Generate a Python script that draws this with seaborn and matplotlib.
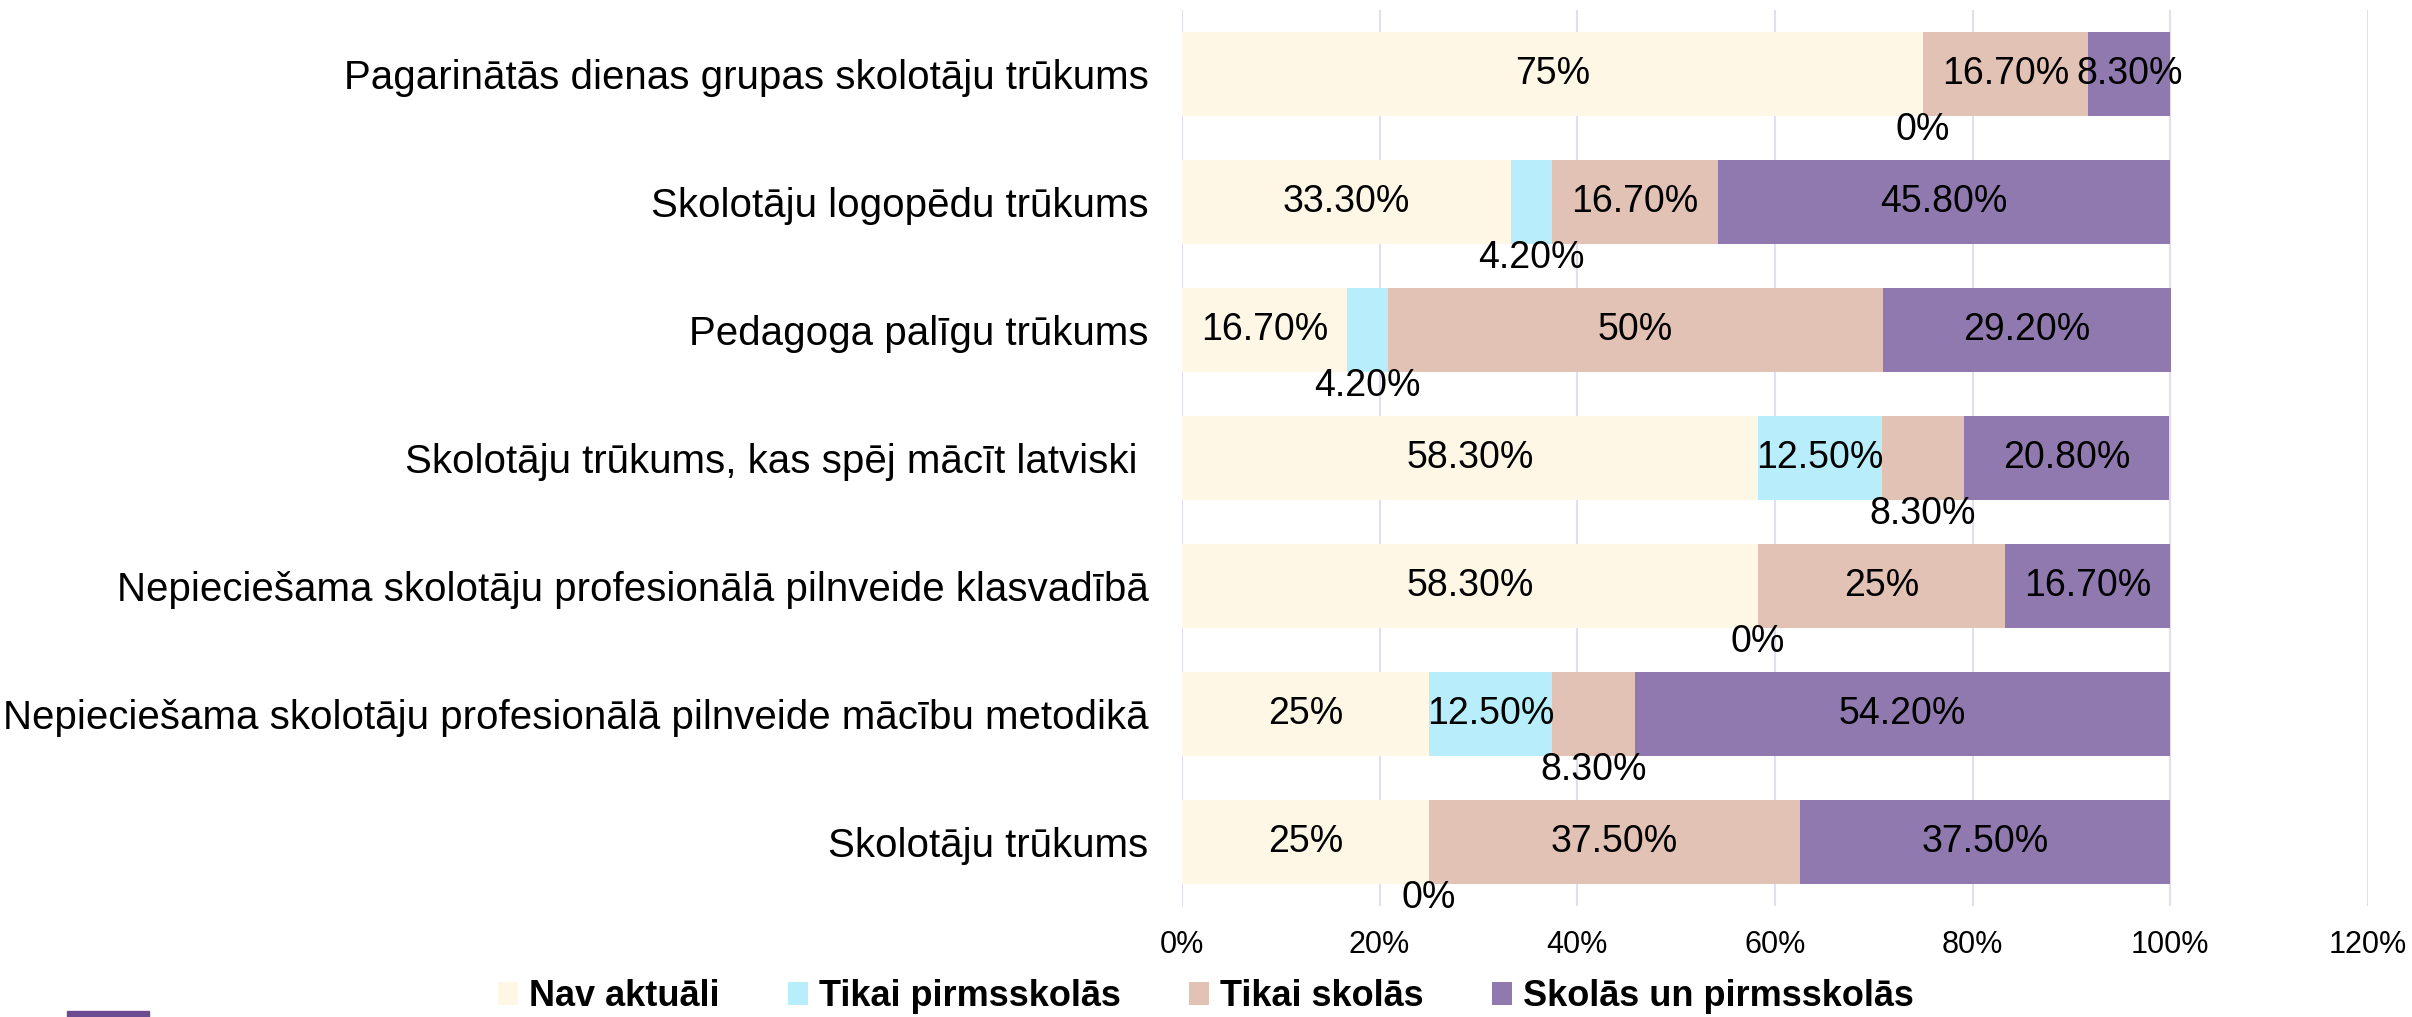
import pandas as pd
import numpy as np
import seaborn as sns
import matplotlib.pyplot as plt
from matplotlib.ticker import FuncFormatter
from matplotlib.patches import Patch, Rectangle

# Data (percent), top to bottom as in the chart
categories = [
    "Pagarinātās dienas grupas skolotāju trūkums",
    "Skolotāju logopēdu trūkums",
    "Pedagoga palīgu trūkums",
    "Skolotāju trūkums, kas spēj mācīt latviski ",
    "Nepieciešama skolotāju profesionālā pilnveide klasvadībā",
    "Nepieciešama skolotāju profesionālā pilnveide mācību metodikā",
    "Skolotāju trūkums",
]
series = ["Nav aktuāli", "Tikai pirmsskolās", "Tikai skolās", "Skolās un pirmsskolās"]
nav_aktuali = [75, 33.3, 16.7, 58.3, 58.3, 25, 25]
tikai_pirmsskolas = [0, 4.2, 4.2, 12.5, 0, 12.5, 0]
tikai_skolas = [16.7, 16.7, 50, 8.3, 25, 8.3, 37.5]
skolas_un_pirmsskolas = [8.3, 45.8, 29.2, 20.8, 16.7, 54.2, 37.5]

colors = ["#FFF7E6", "#B8EEFB", "#E2C2B5", "#9079AE"]

sns.set_theme(style="white")
plt.rcParams['font.family'] = ['Liberation Sans', 'DejaVu Sans']
plt.rcParams['text.color'] = 'black'
plt.rcParams['xtick.color'] = 'black'
plt.rcParams['ytick.color'] = 'black'

df = pd.DataFrame({"cat": categories,
                   series[0]: nav_aktuali,
                   series[1]: tikai_pirmsskolas,
                   series[2]: tikai_skolas,
                   series[3]: skolas_un_pirmsskolas})
vals = df[series].to_numpy()
cum = vals.cumsum(axis=1)

fig = plt.figure(figsize=(24.12, 10.17), dpi=100)
ax = fig.add_axes([0.490, 0.109, 0.4917, 0.881])

# draw stacked bars back to front with cumulative widths
for j in range(len(series) - 1, -1, -1):
    sns.barplot(x=cum[:, j], y=df["cat"], color=colors[j], orient="h",
                width=0.656, ax=ax, saturation=1, linewidth=0)

# data labels; small segments get their label pushed below the bar
for i in range(len(categories)):
    for j in range(len(series)):
        v = vals[i, j]
        start = cum[i, j] - v
        xc = start + v / 2
        txt = f"{v:.0f}%" if float(v).is_integer() else f"{v:.2f}%"
        below = v < 9 and j != 3
        yc = i + 0.44 if below else i
        ax.text(xc, yc, txt, ha="center", va="center", fontsize=27, color="black")

ax.set_xlim(0, 120)
ax.set_ylim(len(categories) - 0.5, -0.5)
ax.set_xticks(np.arange(0, 121, 20))
ax.xaxis.set_major_formatter(FuncFormatter(lambda x, p: f"{x:.0f}%"))
ax.grid(axis="x", color="#E2DEEE", linewidth=1.5)
ax.set_axisbelow(True)
for s in ax.spines.values():
    s.set_visible(False)
ax.tick_params(axis="x", labelsize=22, length=0, pad=17)
ax.tick_params(axis="y", labelsize=29, length=0, pad=24)
ax.set_xlabel("")
ax.set_ylabel("")

handles = [Patch(facecolor=c, edgecolor="none") for c in colors]
leg = fig.legend(handles, series, loc="center", bbox_to_anchor=(0.5, 0.02),
                 ncol=4, frameon=False, handlelength=0.55, handleheight=0.6,
                 handletextpad=0.3, columnspacing=1.9,
                 prop={"weight": "bold", "size": 26})

fig.patches.append(Rectangle((67 / 2412, 0), 82 / 2412, 6 / 1017,
                             transform=fig.transFigure, color="#6B4C93"))

fig.savefig("out.png", dpi=100)
